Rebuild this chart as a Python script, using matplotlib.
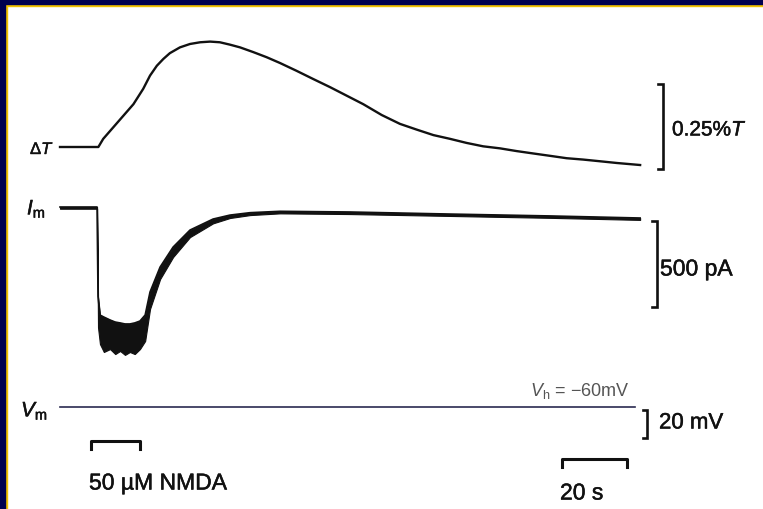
import matplotlib.pyplot as plt
from matplotlib.patches import Rectangle
import matplotlib.patheffects as pe

plt.rcParams['font.family'] = ['Liberation Sans', 'DejaVu Sans']
plt.rcParams['mathtext.fontset'] = 'custom'
plt.rcParams['mathtext.rm'] = 'Liberation Sans'
plt.rcParams['mathtext.it'] = 'Liberation Sans:italic'

W, H = 763, 510

# Delta T trace: time (s), change in transmittance (%)
t_dT = [0, 11.8, 13.3, 16.4, 19.5, 22.6, 25.6, 27.7, 29.8, 31.8, 33.8, 36.9,
        40.0, 43.1, 46.2, 49.2, 52.3, 55.4, 59.5, 63.6, 67.7, 72.8, 77.9, 83.1,
        88.2, 93.3, 99.0, 104.6, 109.8, 114.9, 120.0, 125.1, 130.2, 135.4, 140.5,
        145.6, 150.8, 155.9, 161.0, 166.2, 171.3, 178.5]
dT = [0, 0, 0.024, 0.058, 0.092, 0.126, 0.171, 0.210, 0.239, 0.259, 0.276, 0.293,
      0.303, 0.308, 0.310, 0.308, 0.301, 0.293, 0.279, 0.264, 0.247, 0.224, 0.200,
      0.176, 0.151, 0.126, 0.094, 0.068, 0.051, 0.035, 0.024, 0.012, 0.002, -0.004,
      -0.012, -0.019, -0.026, -0.033, -0.037, -0.042, -0.047, -0.053]

# membrane current: time (s), upper / lower edge of the noisy trace (pA)
t_Im = [0, 11.4, 11.7, 12.3, 13.5, 15.4, 17.0, 18.5, 20.0, 21.5, 23.0, 24.6, 26.2,
        27.7, 30.8, 34.8, 40.0, 47.1, 52.3, 58.5, 67.7, 89.2, 120.0, 150.8, 178.5]
Im_hi = [0, 0, -520, -628, -640, -657, -669, -674, -680, -680, -674, -663, -628,
         -494, -349, -233, -134, -70, -47, -33, -25, -29, -41, -52, -64]
Im_lo = [-10, -10, -700, -797, -843, -826, -855, -837, -860, -843, -855, -826, -779,
         -593, -419, -291, -175, -95, -64, -47, -37, -41, -52, -63, -75]

# membrane potential (mV), holding at -60 mV
t_Vm = [0, 176.9]
Vm = [-60, -60]

# scale bars and NMDA application
DT_BAR = 0.25     # %T
IM_BAR = 500      # pA
VM_BAR = 20       # mV
T_BAR = 20        # s
NMDA_ON, NMDA_OFF = 9.5, 24.5

# pixel layout: t=0 at x=60, 3.25 px per second
PX_S = 3.25
X0 = 60
xlim = (-X0 / PX_S, (W - X0) / PX_S)


def ylim_for(y0_px, v0, px_per_unit):
    # value v0 sits at pixel row y0_px
    top = v0 + y0_px / px_per_unit
    bot = v0 - (H - y0_px) / px_per_unit
    return bot, top


fig = plt.figure(figsize=(W / 100, H / 100), dpi=100)
fig.patch.set_facecolor('white')

ax_dT = fig.add_axes([0, 0, 1, 1])
ax_Im = fig.add_axes([0, 0, 1, 1])
ax_Vm = fig.add_axes([0, 0, 1, 1])
for a in (ax_dT, ax_Im, ax_Vm):
    a.set_xlim(*xlim)
    a.axis('off')
    a.patch.set_alpha(0)

ax_dT.set_ylim(*ylim_for(148, 0, 85 / DT_BAR))
ax_Im.set_ylim(*ylim_for(208, 0, 86 / IM_BAR))
ax_Vm.set_ylim(*ylim_for(408, -60, 28 / VM_BAR))

ink = '#111111'

# traces
ax_dT.plot(t_dT, dT, color=ink, lw=1.7, solid_joinstyle='round')
ax_Im.fill_between(t_Im, Im_lo, Im_hi, color=ink, lw=0.8)
ax_Im.plot(t_Im, Im_hi, color=ink, lw=1.2)
ax_Vm.plot(t_Vm, Vm, color='#2a2a50', lw=1.2)


def bracket(ax, t, lo, hi, tick=1.6):
    ax.plot([t - tick, t, t, t - tick], [lo, lo, hi, hi], color=ink, lw=1.9,
            solid_joinstyle='miter')


bracket(ax_dT, 185.5, -0.065, -0.065 + DT_BAR)
bracket(ax_Im, 183.7, -581, -581 + IM_BAR)
bracket(ax_Vm, 180.6, -82, -82 + VM_BAR, tick=1.2)

# horizontal bars (x in seconds, y in axes fraction)
tr = ax_Vm.get_xaxis_transform()
nm_y, nm_d = 1 - 442 / H, 8 / H
ax_Vm.plot([NMDA_ON, NMDA_ON, NMDA_OFF, NMDA_OFF],
           [nm_y - nm_d, nm_y, nm_y, nm_y - nm_d], transform=tr, color=ink, lw=2.2)
ts_on = 154.5
ts_y = 1 - 460 / H
ax_Vm.plot([ts_on, ts_on, ts_on + T_BAR, ts_on + T_BAR],
           [ts_y - nm_d, ts_y, ts_y, ts_y - nm_d], transform=tr, color=ink, lw=2.2)

bold = [pe.withStroke(linewidth=0.35, foreground=ink)]


def ptext(x, y, s, **kw):
    fig.text(x / W, 1 - y / H, s, color=ink, path_effects=bold, **kw)


ptext(30, 150, r'$\Delta T$', fontsize=12, va='center')
ptext(27, 210, r'$I_\mathrm{m}$', fontsize=15, va='center')
ptext(21, 412, r'$V_\mathrm{m}$', fontsize=15, va='center')
ptext(672, 131, '0.25%$T$', fontsize=15, va='center')
ptext(660, 270, '500 pA', fontsize=16.5, va='center')
ptext(659, 424, '20 mV', fontsize=16, va='center')
ptext(89, 484, '50 µM NMDA', fontsize=16.5, va='center')
ptext(560, 494, '20 s', fontsize=16.5, va='center')
fig.text(530 / W, 1 - 391 / H, r'$V_\mathrm{h}$ = −60mV', color='#555555',
         fontsize=13, va='center')

# navy frame with thin yellow rule (top and left only)
navy, gold = '#00004f', '#f2c200'
fig.patches.append(Rectangle((0, 1 - 5 / H), 1, 5 / H, transform=fig.transFigure,
                             color=navy, zorder=10))
fig.patches.append(Rectangle((0, 0), 5 / W, 1, transform=fig.transFigure,
                             color=navy, zorder=10))
fig.patches.append(Rectangle((5 / W, 1 - 7 / H), 1, 2 / H, transform=fig.transFigure,
                             color=gold, zorder=9))
fig.patches.append(Rectangle((5 / W, 0), 2 / W, 1 - 5 / H, transform=fig.transFigure,
                             color=gold, zorder=9))

fig.savefig('out.png', dpi=100)
